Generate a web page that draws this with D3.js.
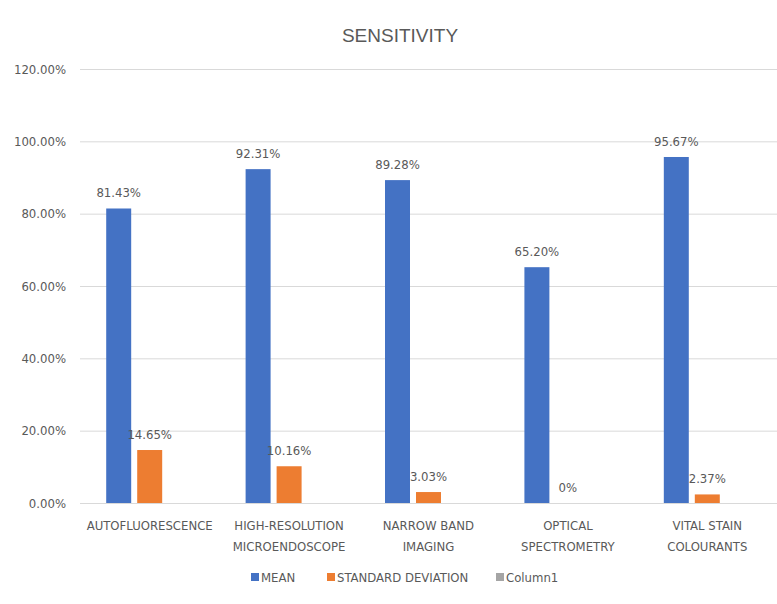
<!DOCTYPE html>
<html>
<head>
<meta charset="utf-8">
<script src="https://cdn.jsdelivr.net/npm/d3@7"></script>
<style>
  html, body { margin: 0; padding: 0; background: #fff; }
  text { font-family: "Liberation Sans Narrow", "DejaVu Sans Condensed", "Liberation Sans", sans-serif; fill: #595959; }
</style>
</head>
<body>
<svg id="chart" width="777" height="604"></svg>
<script>
const categories = [
  ["AUTOFLUORESCENCE"],
  ["HIGH-RESOLUTION", "MICROENDOSCOPE"],
  ["NARROW BAND", "IMAGING"],
  ["OPTICAL", "SPECTROMETRY"],
  ["VITAL STAIN", "COLOURANTS"]
];
const meanValues = [81.43, 92.31, 89.28, 65.20, 95.67];
const meanLabels = ["81.43%", "92.31%", "89.28%", "65.20%", "95.67%"];
const sdValues = [14.65, 10.16, 3.03, 0, 2.37];
const sdLabels = ["14.65%", "10.16%", "3.03%", "0%", "2.37%"];
const column1Values = [null, null, null, null, null];
const seriesNames = ["MEAN", "STANDARD DEVIATION", "Column1"];
const seriesColors = ["#4472C4", "#ED7D31", "#A5A5A5"];
const yTicks = [0, 20, 40, 60, 80, 100, 120];
const yTickLabels = ["0.00%", "20.00%", "40.00%", "60.00%", "80.00%", "100.00%", "120.00%"];
const title = "SENSITIVITY";

(function () {
const svg = d3.select("#chart");
const pLeft = 80, pRight = 777, pTop = 69, pBottom = 503;

const x0 = d3.scaleBand().domain(d3.range(categories.length)).range([pLeft, pRight])
  .paddingInner(0.376).paddingOuter(0.188);
const x1 = d3.scaleBand().domain(d3.range(seriesNames.length)).range([0, x0.bandwidth()])
  .paddingInner(0.194).paddingOuter(0);
const y = d3.scaleLinear().domain([0, 120]).range([pBottom, pTop]);

svg.append("text").attr("x", 400).attr("y", 42).attr("text-anchor", "middle")
  .style("font-size", "19px").style("font-family", "'Liberation Sans', sans-serif").text(title);

const yAxis = d3.axisLeft(y).tickValues(yTicks).tickSize(-(pRight - pLeft))
  .tickFormat((d, i) => yTickLabels[i]).tickPadding(14);
const gy = svg.append("g").attr("transform", `translate(${pLeft},0)`).call(yAxis);
gy.select(".domain").remove();
gy.selectAll(".tick line").attr("stroke", "#d9d9d9").attr("stroke-width", 1);
gy.selectAll(".tick text").style("font-size", "13px").attr("fill", "#595959")
  .style("font-family", "'Liberation Sans Narrow', 'DejaVu Sans Condensed', sans-serif");

const series = [meanValues, sdValues, column1Values];
const labels = [meanLabels, sdLabels, null];

series.forEach((vals, s) => {
  const g = svg.append("g");
  vals.forEach((v, i) => {
    if (v === null) return;
    const bx = x0(i) + x1(s);
    g.append("rect").attr("x", bx).attr("y", y(v)).attr("width", x1.bandwidth())
      .attr("height", y(0) - y(v)).attr("fill", seriesColors[s]);
    if (labels[s]) {
      g.append("text").attr("x", bx + x1.bandwidth() / 2).attr("y", y(v) - 11)
        .attr("text-anchor", "middle").style("font-size", "13px").text(labels[s][i]);
    }
  });
});

categories.forEach((lines, i) => {
  const cx = x0(i) + x0.bandwidth() / 2;
  const t = svg.append("text").attr("x", cx).attr("y", 530).attr("text-anchor", "middle")
    .style("font-size", "13px");
  lines.forEach((ln, k) => {
    t.append("tspan").attr("x", cx).attr("dy", k === 0 ? 0 : 21).text(ln);
  });
});

const legendItems = [
  { x: 251, name: seriesNames[0], color: seriesColors[0] },
  { x: 327, name: seriesNames[1], color: seriesColors[1] },
  { x: 496, name: seriesNames[2], color: seriesColors[2] }
];
const lg = svg.append("g");
legendItems.forEach(it => {
  lg.append("rect").attr("x", it.x).attr("y", 573).attr("width", 8).attr("height", 8).attr("fill", it.color);
  lg.append("text").attr("x", it.x + 10).attr("y", 582).style("font-size", "13px").text(it.name);
});
})();
</script>
</body>
</html>
